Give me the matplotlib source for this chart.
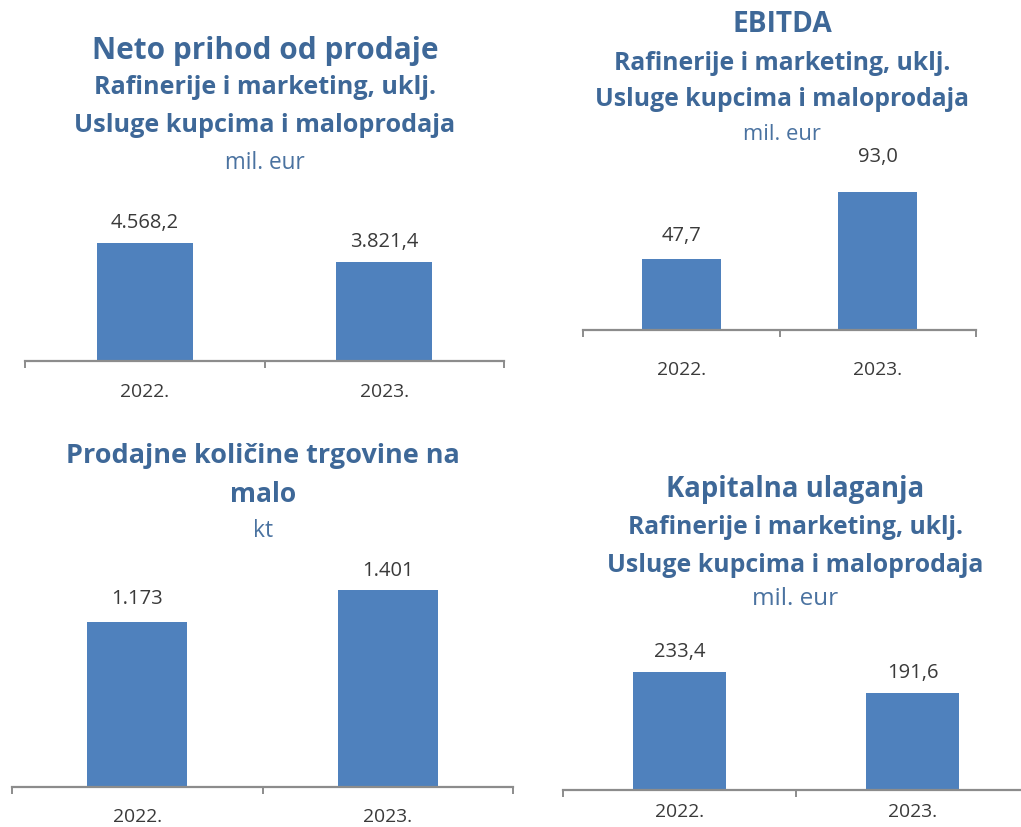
import matplotlib
matplotlib.use("Agg")
import matplotlib.pyplot as plt

plt.rcParams['font.family'] = ['Open Sans', 'DejaVu Sans']

years = ["2022.", "2023."]

neto_prihod = [4568.2, 3821.4]
neto_labels = ["4.568,2", "3.821,4"]

ebitda = [47.7, 93.0]
ebitda_labels = ["47,7", "93,0"]

prodajne_kolicine = [1173, 1401]
prodajne_labels = ["1.173", "1.401"]

kapitalna = [233.4, 191.6]
kapitalna_labels = ["233,4", "191,6"]

titles_neto = ["Neto prihod od prodaje", "Rafinerije i marketing, uklj.",
               "Usluge kupcima i maloprodaja", "mil. eur"]
titles_ebitda = ["EBITDA", "Rafinerije i marketing, uklj.",
                 "Usluge kupcima i maloprodaja", "mil. eur"]
titles_prod = ["Prodajne količine trgovine na", "malo", "kt"]
titles_kap = ["Kapitalna ulaganja", "Rafinerije i marketing, uklj.",
              "Usluge kupcima i maloprodaja", "mil. eur"]

W, H = 1021, 828
DPI = 100
fig = plt.figure(figsize=(W / DPI, H / DPI), dpi=DPI)
fig.patch.set_facecolor('white')
renderer = fig.canvas.get_renderer()

BAR = '#4f81bd'
TITLE = '#3e6898'
UNIT = '#4a72a0'
NUM = '#3a3a3a'
AXC = '#8c8c8c'


def fit_size(text, target_px, weight='normal', base=20.0):
    t = fig.text(0, 0, text, fontsize=base, fontweight=weight)
    w = t.get_window_extent(renderer=renderer).width
    t.remove()
    return base * target_px / w


YEAR_FS = fit_size("2022.", 49)
NUM_FS = fit_size("4.568,2", 68)


def panel(x0, x1, ybase, ymax, px_per_unit, values, labels, offsets, year_off,
          bar_width=0.40):
    height_px = ymax * px_per_unit
    ax = fig.add_axes([x0 / W, (H - ybase) / H, (x1 - x0) / W, height_px / H])
    ax.bar(range(len(values)), values, width=bar_width, color=BAR, zorder=2)
    ax.set_xlim(-0.5, len(values) - 0.5)
    ax.set_ylim(0, ymax)
    for s in ['top', 'right', 'left']:
        ax.spines[s].set_visible(False)
    ax.spines['bottom'].set_color(AXC)
    ax.spines['bottom'].set_linewidth(1.6)
    ax.set_yticks([])
    ax.set_xticks(range(len(values)))
    ax.set_xticklabels([])
    ax.tick_params(axis='x', which='major', length=0)
    ax.set_xticks([i - 0.5 for i in range(len(values) + 1)], minor=True)
    ax.tick_params(axis='x', which='minor', length=5, width=1.4, color=AXC,
                   direction='out')
    ax.patch.set_visible(False)
    for i, yr in enumerate(years):
        ax.annotate(yr, (i, 0), xytext=(0, -year_off), textcoords='offset pixels',
                    ha='center', va='center', fontsize=YEAR_FS, color=NUM,
                    annotation_clip=False)
    for i, (v, lab, off) in enumerate(zip(values, labels, offsets)):
        ax.annotate(lab, (i, v), xytext=(0, off), textcoords='offset pixels',
                    ha='center', va='center', fontsize=NUM_FS, color=NUM,
                    annotation_clip=False)
    return ax


def titles(cx, lines, ys, widths, weights):
    for t, y, wpx, w in zip(lines, ys, widths, weights):
        fs = fit_size(t, wpx, w)
        col = TITLE if w == 'bold' else UNIT
        fig.text(cx / W, (H - y) / H, t, ha='center', va='center',
                 fontsize=fs, fontweight=w, color=col)


# Panel 1
panel(25, 504, 362, 5000, 0.02583, neto_prihod, neto_labels, [21, 21], 30)
titles(265, titles_neto, [51, 88, 126, 163], [346, 342, 382, 80],
       ['bold', 'bold', 'bold', 'normal'])

# Panel 2
panel(583, 976, 331, 100, 1.487, ebitda, ebitda_labels, [24, 36], 39)
titles(782, titles_ebitda, [25, 63, 100, 135], [100, 337, 373, 78],
       ['bold', 'bold', 'bold', 'normal'])

# Panel 3
panel(12, 513, 788, 1500, 0.1403, prodajne_kolicine, prodajne_labels, [24, 20], 29)
titles(263, titles_prod, [456, 495, 531], [393, 66, 20],
       ['bold', 'bold', 'normal'])

# Panel 4
panel(563, 1029, 791, 250, 0.506, kapitalna, kapitalna_labels, [21, 21], 21,
      bar_width=0.395)
titles(795, titles_kap, [490, 528, 566, 599], [258, 334, 375, 86],
       ['bold', 'bold', 'bold', 'normal'])

fig.savefig('out.png', dpi=DPI)
